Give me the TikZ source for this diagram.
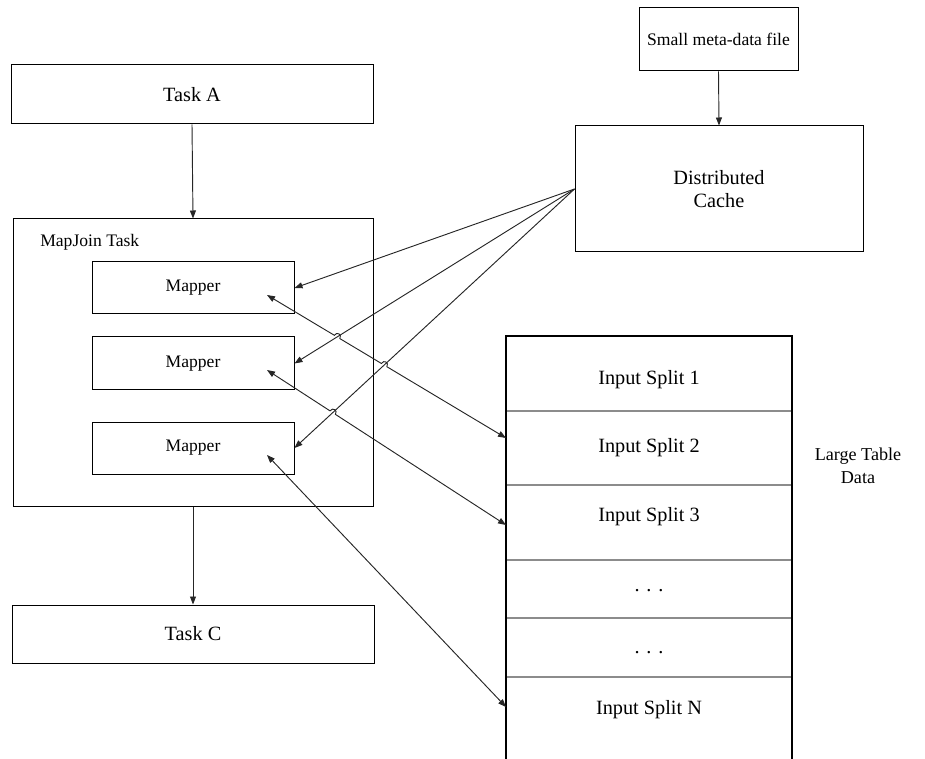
\documentclass[tikz,border=0pt]{standalone}
\usepackage{fontspec}
\setmainfont{Liberation Serif}
\usetikzlibrary{arrows.meta,calc,intersections}
\begin{document}
\begin{tikzpicture}[x=0.75pt,y=-0.75pt,
  box/.style={draw=black,line width=0.75pt,rectangle,inner sep=0pt,anchor=center},
  bigtext/.style={font=\fontsize{15.2}{17.5}\selectfont},
  smalltext/.style={font=\fontsize{13.2}{16}\selectfont},
  tip/.tip={Triangle[length=6pt,width=4.5pt]},
  link/.style={draw=black!85,line width=0.7pt,-tip},
  biarrow/.style={draw=black!85,line width=0.7pt,tip-tip},
  splitline/.style={draw=black!45,line width=1pt},
  stackline/.style={draw=black,line width=0.8pt}]
\useasboundingbox (0,0) rectangle (925,759);

% job chain on the left
\node[box,bigtext,minimum width=271.5pt,minimum height=44.25pt] (taskA) at (192,94.5) {Task A};
\node[box,minimum width=270pt,minimum height=215.25pt] (mapjoin) at (193,362.5) {};
\node[smalltext,anchor=west,inner sep=0pt] (mjlabel) at (40,242) {MapJoin Task};
\node[box,smalltext,minimum width=151.5pt,minimum height=39pt] (m1) at (193,288) {Mapper};
\node[box,smalltext,minimum width=151.5pt,minimum height=39.75pt] (m2) at (193,363.5) {Mapper};
\node[box,smalltext,minimum width=151.5pt,minimum height=39pt] (m3) at (193,448) {Mapper};
\node[box,bigtext,minimum width=271.5pt,minimum height=43.5pt] (taskC) at (193,634) {Task C};

% small file and distributed cache
\node[box,smalltext,minimum width=119.25pt,minimum height=47.25pt] (meta) at (718.5,39.5) {Small meta-data file};
\node[box,bigtext,align=center,minimum width=216pt,minimum height=94.5pt] (cache) at (719,189) {Distributed\\Cache};

% large table, open at the bottom
\coordinate (stBL) at (506,759);
\coordinate (stTL) at (506,336);
\coordinate (stTR) at (792,336);
\coordinate (stBR) at (792,759);
\foreach \y [count=\i] in {411,485,560,618,677} {
  \coordinate (sepL\i) at (506,\y);
  \coordinate (sepR\i) at (792,\y);
  \draw[splitline] (sepL\i) -- (sepR\i);
}
\draw[stackline] (stBL) -- (stTL) -- (stTR) -- (stBR);
\node[bigtext] (s1) at (649,380) {Input Split 1};
\node[bigtext] (s2) at (649,448) {Input Split 2};
\node[bigtext] (s3) at (649,517) {Input Split 3};
\node[bigtext] (s4) at (649,591) {. . .};
\node[bigtext] (s5) at (649,653) {. . .};
\node[bigtext] (sN) at (649,710) {Input Split N};
\node[align=center,font=\fontsize{13.6}{17.25}\selectfont] (ltd) at (858,466) {Large Table\\Data};

% control flow
\draw[link] (taskA.south) -- (mapjoin.north);
\draw[link] (mapjoin.south) -- (taskC.north);
\draw[link] (meta.south) -- (cache.north);

% cache to mappers
\draw[link,name path global=c1] (cache.west) -- (m1.east);
\draw[link,name path global=c2] (cache.west) -- (m2.east);
\draw[link,name path global=c3] (cache.west) -- (m3.east);

% mapper <-> split end points
\coordinate (a1s) at (267,295);
\coordinate (a1e) at (506,438);
\coordinate (a2s) at (267,370);
\coordinate (a2e) at (506,525);
\coordinate (a3s) at (267,455);
\coordinate (a3e) at (506,707);

\path[name path global=a1] (a1s) -- (a1e);
\path[name path global=a2] (a2s) -- (a2e);
\path[name intersections={of=a1 and c2,by={x1}}];
\path[name intersections={of=a1 and c3,by={x2}}];
\path[name intersections={of=a2 and c3,by={x3}}];

% small line jumps where the split links cross the cache links
\coordinate (x1i) at ($(x1)!2.4pt!(a1s)$);
\coordinate (x1o) at ($(x1)!2.4pt!(a1e)$);
\coordinate (x1p) at ($(x1i)!3.6pt!90:(x1)$);
\coordinate (x1q) at ($(x1o)!3.6pt!-90:(x1)$);
\coordinate (x2i) at ($(x2)!2.4pt!(a1s)$);
\coordinate (x2o) at ($(x2)!2.4pt!(a1e)$);
\coordinate (x2p) at ($(x2i)!3.6pt!90:(x2)$);
\coordinate (x2q) at ($(x2o)!3.6pt!-90:(x2)$);
\coordinate (x3i) at ($(x3)!2.4pt!(a2s)$);
\coordinate (x3o) at ($(x3)!2.4pt!(a2e)$);
\coordinate (x3p) at ($(x3i)!3.6pt!90:(x3)$);
\coordinate (x3q) at ($(x3o)!3.6pt!-90:(x3)$);

\draw[biarrow] (a1s) -- (x1i) .. controls (x1p) and (x1q) .. (x1o)
  -- (x2i) .. controls (x2p) and (x2q) .. (x2o) -- (a1e);
\draw[biarrow] (a2s) -- (x3i) .. controls (x3p) and (x3q) .. (x3o) -- (a2e);
\draw[biarrow] (a3s) -- (a3e);
\end{tikzpicture}
\end{document}
